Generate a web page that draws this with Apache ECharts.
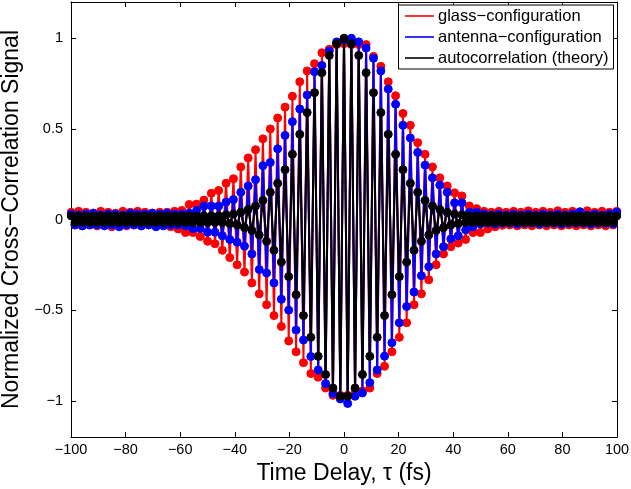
<!DOCTYPE html>
<html>
<head>
<meta charset="utf-8">
<script src="https://cdn.jsdelivr.net/npm/echarts@6/dist/echarts.min.js"></script>
<style>html,body{margin:0;padding:0;background:#fff}#c{width:631px;height:489px}</style>
</head>
<body>
<div id="c"></div>
<script>
// Time delay grid (fs)
const delay = [-99.9,-98.55,-97.2,-95.85,-94.5,-93.15,-91.8,-90.45,-89.1,-87.75,-86.4,-85.05,-83.7,-82.35,-81,-79.65,-78.3,-76.95,-75.6,-74.25,-72.9,-71.55,-70.2,-68.85,-67.5,-66.15,-64.8,-63.45,-62.1,-60.75,-59.4,-58.05,-56.7,-55.35,-54,-52.65,-51.3,-49.95,-48.6,-47.25,-45.9,-44.55,-43.2,-41.85,-40.5,-39.15,-37.8,-36.45,-35.1,-33.75,-32.4,-31.05,-29.7,-28.35,-27,-25.65,-24.3,-22.95,-21.6,-20.25,-18.9,-17.55,-16.2,-14.85,-13.5,-12.15,-10.8,-9.45,-8.1,-6.75,-5.4,-4.05,-2.7,-1.35,
0,
1.35,2.7,4.05,5.4,6.75,8.1,9.45,10.8,12.15,13.5,14.85,16.2,17.55,18.9,20.25,21.6,22.95,24.3,25.65,27,28.35,29.7,31.05,32.4,33.75,35.1,36.45,37.8,39.15,40.5,41.85,43.2,44.55,45.9,47.25,48.6,49.95,51.3,52.65,54,55.35,56.7,58.05,59.4,60.75,62.1,63.45,64.8,66.15,67.5,68.85,70.2,71.55,72.9,74.25,75.6,76.95,78.3,79.65,81,82.35,83.7,85.05,86.4,87.75,89.1,90.45,91.8,93.15,94.5,95.85,97.2,98.55,99.9];

const glass = [0.04,-0.03,0.045,-0.035,0.04,-0.03,0.035,-0.035,0.045,-0.03,0.04,-0.04,0.035,-0.03,0.045,-0.035,0.04,-0.03,0.045,-0.035,0.04,-0.03,0.035,-0.035,
0.04,-0.032,0.04,-0.04,0.045,-0.052,0.05,-0.072,0.083,-0.072,0.085,-0.094,0.107,-0.12,0.145,-0.134,0.16,-0.17,0.20,-0.21,0.225,-0.25,0.29,-0.29,0.34,-0.35,0.385,-0.41,0.445,-0.47,0.50,-0.53,0.56,-0.59,0.62,-0.67,0.68,-0.73,0.76,-0.79,0.82,-0.85,0.86,-0.87,0.92,-0.93,0.94,-0.97,0.965,-0.97,
0.97,
-0.97,0.965,-0.96,0.965,-0.946,0.965,-0.93,0.90,-0.85,0.845,-0.81,0.76,-0.73,0.683,-0.65,0.585,-0.57,0.52,-0.47,0.424,-0.41,0.36,-0.333,0.29,-0.25,0.23,-0.19,0.185,-0.15,0.147,-0.13,0.13,-0.11,0.075,-0.072,0.06,-0.072,0.045,-0.052,0.04,-0.04,0.045,-0.032,
0.04,-0.03,0.045,-0.035,0.04,-0.03,0.048,-0.035,0.04,-0.03,0.045,-0.035,0.04,-0.03,0.048,-0.035,0.04,-0.03,0.045,-0.035,0.04,-0.03,0.048,-0.035,0.04,-0.03,0.045,-0.035,0.04,-0.03,0.045];

const antenna = [0.03,-0.03,0.025,-0.035,0.03,-0.03,0.035,-0.03,0.025,-0.035,0.03,-0.03,0.03,-0.04,0.025,-0.03,0.035,-0.03,0.03,-0.035,0.03,-0.03,0.035,-0.04,0.03,-0.035,0.035,-0.03,0.03,-0.03,
0.03,-0.035,0.035,-0.05,0.05,-0.05,0.074,-0.07,0.075,-0.07,0.074,-0.09,0.096,-0.11,0.11,-0.125,0.15,-0.147,0.185,-0.19,0.22,-0.276,0.297,-0.295,0.315,-0.35,0.39,-0.44,0.464,-0.50,0.54,-0.61,0.61,-0.665,0.687,-0.756,0.815,-0.83,0.85,-0.905,0.93,-0.96,0.98,-0.99,
0.99,
-1.015,1.0,-0.975,0.98,-0.957,0.946,-0.90,0.89,-0.83,0.82,-0.754,0.72,-0.68,0.636,-0.57,0.52,-0.48,0.45,-0.40,0.37,-0.31,0.30,-0.26,0.23,-0.19,0.19,-0.15,0.15,-0.107,0.092,-0.09,0.092,-0.057,0.04,-0.04,0.04,-0.025,
0.03,-0.02,0.025,-0.025,0.03,-0.02,0.025,-0.02,0.03,-0.025,0.025,-0.02,0.03,-0.02,0.025,-0.025,0.03,-0.02,0.025,-0.02,0.03,-0.025,0.025,-0.02,0.03,-0.02,0.043,-0.02,0.025,-0.025,0.03,-0.02,0.025,-0.02,0.03,-0.025,0.04];

const theory = [0.02,-0.016,0.02,-0.016,0.02,-0.016,0.02,-0.016,0.02,-0.016,0.02,-0.016,0.02,-0.016,0.02,-0.016,0.02,-0.016,0.02,-0.016,0.02,-0.016,0.02,-0.016,0.02,-0.016,0.02,-0.016,0.02,-0.016,0.02,-0.016,0.02,-0.016,0.02,-0.016,0.02,-0.016,0.02,-0.016,0.02,-0.016,
0.025,-0.022,0.03,-0.03,0.04,-0.045,0.055,-0.06,0.075,-0.085,0.105,-0.12,0.15,-0.17,0.20,-0.235,0.275,-0.315,0.36,-0.415,0.47,-0.53,0.59,-0.65,0.70,-0.755,0.81,-0.855,0.905,-0.93,0.97,-0.975,
1.0,
-0.975,0.97,-0.93,0.905,-0.855,0.81,-0.755,0.70,-0.65,0.59,-0.53,0.47,-0.415,0.36,-0.315,0.275,-0.235,0.20,-0.17,0.15,-0.12,0.105,-0.085,0.075,-0.06,0.055,-0.045,0.04,-0.03,0.03,-0.022,0.025,
-0.016,0.02,-0.016,0.02,-0.016,0.02,-0.016,0.02,-0.016,0.02,-0.016,0.02,-0.016,0.02,-0.016,0.02,-0.016,0.02,-0.016,0.02,-0.016,0.02,-0.016,0.02,-0.016,0.02,-0.016,0.02,-0.016,0.02,-0.016,0.02,-0.016,0.02,-0.016,0.02,-0.016,0.02,-0.016,0.02,-0.016,0.02];

const seriesNames = ['glass\u2212configuration', 'antenna\u2212configuration', 'autocorrelation (theory)'];
const seriesColors = ['#ff0000', '#0000ff', '#000000'];
const seriesValues = [glass, antenna, theory];
const xTicks = [-100, -80, -60, -40, -20, 0, 20, 40, 60, 80, 100];
const yTicks = [-1, -0.5, 0, 0.5, 1];

const FONT = 'Liberation Sans, Arial, Helvetica, sans-serif';
const fmt = v => String(v).replace('-', '\u2212');

const chart = echarts.init(document.getElementById('c'), null, {renderer: 'canvas'});

const baseX = {
  type: 'value', min: -100, max: 100, interval: 20,
  axisLine: {show: true, onZero: false, lineStyle: {color: '#000', width: 1}},
  axisTick: {show: true, inside: true, length: 5, lineStyle: {color: '#000'}},
  splitLine: {show: false}
};
const baseY = {
  type: 'value', min: -1.2, max: 1.2,
  axisLine: {show: true, onZero: false, lineStyle: {color: '#000', width: 1}},
  axisTick: {show: true, inside: true, length: 5, customValues: yTicks, lineStyle: {color: '#000'}},
  splitLine: {show: false}
};

// Legend box drawn with graphic elements (box, line swatches, real text)
const LEG = {left: 398, top: 4.5, width: 215, rowY: [16, 37, 58], height: 64};
const legendGraphics = [{
  type: 'rect', left: LEG.left, top: LEG.top, z: 100,
  shape: {x: 0, y: 0, width: LEG.width, height: LEG.height},
  style: {fill: '#fff', stroke: '#000', lineWidth: 1}
}];
seriesNames.forEach((n, i) => {
  legendGraphics.push({
    type: 'line', z: 101,
    shape: {x1: LEG.left + 7, y1: LEG.rowY[i], x2: LEG.left + 36, y2: LEG.rowY[i]},
    style: {stroke: seriesColors[i], lineWidth: 1.6}
  });
  legendGraphics.push({
    type: 'text', z: 101, x: LEG.left + 40, y: LEG.rowY[i] + 0.5,
    style: {text: n, fill: '#000', font: '16.5px ' + FONT, textAlign: 'left', textVerticalAlign: 'middle', verticalAlign: 'middle'}
  });
});

const option = {
  animation: false,
  backgroundColor: '#fff',
  grid: {left: 71, right: 14, top: 2, bottom: 52, show: false, containLabel: false, outerBoundsMode: 'none'},
  graphic: legendGraphics,
  xAxis: [
    Object.assign({}, baseX, {
      position: 'bottom',
      axisLabel: {show: true, color: '#000', fontFamily: FONT, fontSize: 14.5, margin: 5, formatter: fmt},
      name: 'Time Delay, \u03c4 (fs)', nameLocation: 'middle', nameGap: 21,
      nameTextStyle: {fontFamily: FONT, fontSize: 23, color: '#000'}
    }),
    Object.assign({}, baseX, {position: 'top', axisLabel: {show: false}})
  ],
  yAxis: [
    Object.assign({}, baseY, {
      position: 'left',
      axisLabel: {show: true, color: '#000', fontFamily: FONT, fontSize: 14.5, margin: 8, customValues: yTicks, formatter: fmt},
      name: 'Normalized Cross\u2212Correlation Signal', nameLocation: 'middle', nameGap: 42,
      nameTextStyle: {fontFamily: FONT, fontSize: 23, color: '#000'}
    }),
    Object.assign({}, baseY, {position: 'right', axisLabel: {show: false}})
  ],
  series: seriesNames.map((name, i) => ({
    name: name,
    type: 'line',
    xAxisIndex: 0, yAxisIndex: 0,
    data: delay.map((t, j) => [t, seriesValues[i][j]]),
    symbol: 'circle', symbolSize: 8, showSymbol: true,
    itemStyle: {color: seriesColors[i], borderColor: seriesColors[i]},
    lineStyle: {color: seriesColors[i], width: 2},
    z: 2 + i,
    clip: false
  }))
};
chart.setOption(option);
</script>
</body>
</html>
